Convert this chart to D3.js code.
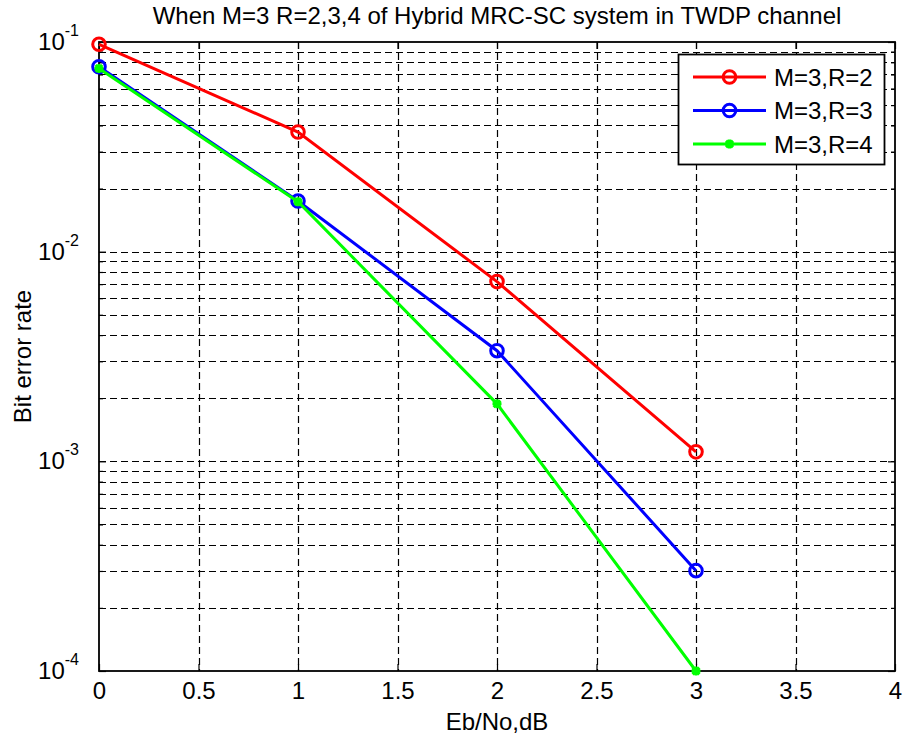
<!DOCTYPE html>
<html><head><meta charset="utf-8">
<script src="https://cdn.jsdelivr.net/npm/d3@7"></script>
<style>body{margin:0;background:#fff}svg{display:block}text{font-family:"Liberation Sans",Arial,sans-serif}</style>
</head><body>
<script>
const xVals = [0, 1, 2, 3];
const serR2 = [0.0975, 0.0372, 0.0072, 0.00111];
const serR3 = [0.0762, 0.01745, 0.00337, 0.000301];
const serR4 = [0.0748, 0.0173, 0.00188, 0.0001];
const seriesNames = ["M=3,R=2", "M=3,R=3", "M=3,R=4"];
const seriesColors = ["#ff0000", "#0000ff", "#00ff00"];
const seriesMarkers = ["circle", "circle", "star"];
const xTicks = [0, 0.5, 1, 1.5, 2, 2.5, 3, 3.5, 4];
const yDecades = [-4, -3, -2, -1];
const titleText = "When M=3 R=2,3,4 of Hybrid MRC-SC system in TWDP channel";
const xLabel = "Eb/No,dB";
const yLabel = "Bit error rate";

const W = 903, H = 738, FS = 24;
const m = {l: 99, t: 42, r: 895, b: 671};
const svg = d3.select("body").append("svg").attr("width", W).attr("height", H);
const x = d3.scaleLinear().domain([0, 4]).range([m.l, m.r]);
const y = d3.scaleLog().domain([1e-4, 1e-1]).range([m.b, m.t]);

const minorVals = [];
yDecades.slice(0, 3).forEach(d => { for (let k = 2; k <= 9; k++) minorVals.push(k * Math.pow(10, d)); });
const majorVals = yDecades.map(d => Math.pow(10, d));

const grid = svg.append("g").attr("stroke", "#000").attr("stroke-width", 1.2).attr("stroke-dasharray", "7,4");
xTicks.slice(1, -1).forEach(v => grid.append("line").attr("x1", Math.round(x(v)) + 0.5).attr("x2", Math.round(x(v)) + 0.5).attr("y1", m.t).attr("y2", m.b));
majorVals.concat(minorVals).forEach(v => {
  const yy = Math.round(y(v)) + 0.5;
  if (yy < m.t + 1 || yy > m.b - 1) return;
  grid.append("line").attr("x1", m.l).attr("x2", m.r).attr("y1", yy).attr("y2", yy);
});

const axG = svg.append("g");
const xb = d3.axisBottom(x).tickValues(xTicks).tickSizeInner(-7).tickSizeOuter(0).tickFormat(d3.format("")).tickPadding(11);
const xt = d3.axisTop(x).tickValues(xTicks).tickSizeInner(-7).tickSizeOuter(0).tickFormat("");
const yl = d3.axisLeft(y).tickValues(majorVals).tickSizeInner(-7).tickSizeOuter(0).tickFormat("");
const yr = d3.axisRight(y).tickValues(majorVals).tickSizeInner(-7).tickSizeOuter(0).tickFormat("");
const ylm = d3.axisLeft(y).tickValues(minorVals).tickSizeInner(-4).tickSizeOuter(0).tickFormat("");
const yrm = d3.axisRight(y).tickValues(minorVals).tickSizeInner(-4).tickSizeOuter(0).tickFormat("");
[[xb, `translate(0,${m.b})`], [xt, `translate(0,${m.t})`], [yl, `translate(${m.l},0)`], [yr, `translate(${m.r},0)`], [ylm, `translate(${m.l},0)`], [yrm, `translate(${m.r},0)`]].forEach(([a, t]) => {
  const g = axG.append("g").attr("transform", t).call(a);
  g.selectAll("path").remove();
  g.selectAll("line").attr("stroke", "#000").attr("stroke-width", 1.2);
  g.selectAll("text").attr("font-size", FS).attr("fill", "#000").attr("font-family", '"Liberation Sans",Arial,sans-serif');
});
svg.append("rect").attr("x", m.l).attr("y", m.t).attr("width", m.r - m.l).attr("height", m.b - m.t)
  .attr("fill", "none").attr("stroke", "#000").attr("stroke-width", 1.8);

majorVals.forEach((v, i) => {
  const t = svg.append("text").attr("x", 79).attr("y", y(v) + 8).attr("text-anchor", "end").attr("font-size", FS);
  t.append("tspan").text("10");
  t.append("tspan").attr("dy", -14).attr("font-size", 16).text(String(yDecades[i]));
});

const allSeries = [serR2, serR3, serR4];
const line = d3.line().x((d, i) => x(xVals[i])).y(d => y(d));
function drawMarker(g, type, cx, cy, color) {
  if (type === "circle") {
    g.append("circle").attr("cx", cx).attr("cy", cy).attr("r", 6.3).attr("fill", "none").attr("stroke", color).attr("stroke-width", 3);
  } else {
    const r = 4.5;
    const p = `M${cx - r},${cy}L${cx + r},${cy}M${cx},${cy - r}L${cx},${cy + r}M${cx - r * 0.75},${cy - r * 0.75}L${cx + r * 0.75},${cy + r * 0.75}M${cx - r * 0.75},${cy + r * 0.75}L${cx + r * 0.75},${cy - r * 0.75}`;
    g.append("path").attr("d", p).attr("stroke", color).attr("stroke-width", 3).attr("fill", "none");
  }
}
allSeries.forEach((s, k) => {
  const g = svg.append("g");
  g.append("path").datum(s).attr("d", line).attr("fill", "none").attr("stroke", seriesColors[k]).attr("stroke-width", 3);
  s.forEach((v, i) => drawMarker(g, seriesMarkers[k], x(xVals[i]), y(v), seriesColors[k]));
});

const lg = svg.append("g");
lg.append("rect").attr("x", 678.5).attr("y", 54.5).attr("width", 206).attr("height", 110).attr("fill", "#fff").attr("stroke", "#000").attr("stroke-width", 1.8);
seriesNames.forEach((n, k) => {
  const yy = 77 + k * 33.5;
  lg.append("line").attr("x1", 693).attr("x2", 766).attr("y1", yy).attr("y2", yy).attr("stroke", seriesColors[k]).attr("stroke-width", 3);
  drawMarker(lg, seriesMarkers[k], 729.5, yy, seriesColors[k]);
  lg.append("text").attr("x", 774).attr("y", yy + 8.5).attr("font-size", FS).text(n);
});

svg.append("text").attr("x", (m.l + m.r) / 2).attr("y", 24).attr("text-anchor", "middle").attr("font-size", FS).text(titleText);
svg.append("text").attr("x", (m.l + m.r) / 2).attr("y", 730).attr("text-anchor", "middle").attr("font-size", FS).text(xLabel);
svg.append("text").attr("transform", `translate(31,${(m.t + m.b) / 2}) rotate(-90)`).attr("text-anchor", "middle").attr("font-size", FS).text(yLabel);
</script>
</body></html>
